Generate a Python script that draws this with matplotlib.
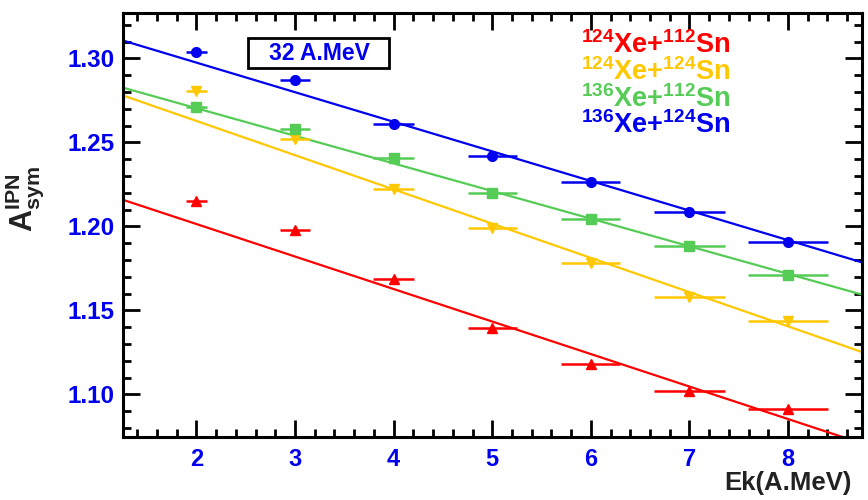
import numpy as np
import matplotlib
matplotlib.use("Agg")
import matplotlib.pyplot as plt
from matplotlib.ticker import MultipleLocator
from matplotlib.patches import Rectangle

plt.rcParams['font.family'] = ['Liberation Sans', 'DejaVu Sans']
plt.rcParams['font.weight'] = 'bold'
plt.rcParams['mathtext.fontset'] = 'custom'
plt.rcParams['mathtext.rm'] = 'Liberation Sans:bold'
plt.rcParams['mathtext.it'] = 'Liberation Sans:bold'
plt.rcParams['mathtext.bf'] = 'Liberation Sans:bold'

# Data
ek = [2, 3, 4, 5, 6, 7, 8]
ek_err = [0.11, 0.15, 0.21, 0.25, 0.30, 0.36, 0.41]

asym_124_112 = [1.2151, 1.1976, 1.1688, 1.1397, 1.1179, 1.1020, 1.0915]
asym_124_124 = [1.2805, 1.2522, 1.2224, 1.1992, 1.1784, 1.1579, 1.1436]
asym_136_112 = [1.2708, 1.2577, 1.2410, 1.2198, 1.2043, 1.1881, 1.1712]
asym_136_124 = [1.3040, 1.2870, 1.2611, 1.2419, 1.2262, 1.2085, 1.1907]

# linear fit parameters (intercept, slope)
fit_124_112 = (1.2401, -0.01934)
fit_124_124 = (1.3035, -0.02037)
fit_136_112 = (1.3032, -0.01643)
fit_136_124 = (1.3327, -0.01761)

labels = [r"$^{124}$Xe+$^{112}$Sn", r"$^{124}$Xe+$^{124}$Sn",
          r"$^{136}$Xe+$^{112}$Sn", r"$^{136}$Xe+$^{124}$Sn"]
colors = ['#ff0000', '#ffc800', '#55cc55', '#0000ee']
markers = ['^', 'v', 's', 'o']
series = [asym_124_112, asym_124_124, asym_136_112, asym_136_124]
fits = [fit_124_112, fit_124_124, fit_136_112, fit_136_124]

fig = plt.figure(figsize=(8.68, 5.0), dpi=100)
ax = fig.add_axes([122.5/868, 1-436.5/500, (862-122.5)/868, (436.5-13)/500])

xmin, xmax = 1.25, 8.75
ymin, ymax = 1.075, 1.327

xx = np.linspace(xmin, xmax, 50)
for ys, fit, c, m in zip(series, fits, colors, markers):
    ax.plot(xx, fit[0] + fit[1]*xx, color=c, lw=1.6, zorder=2)
    ax.errorbar(ek, ys, xerr=ek_err, fmt=m, color=c, ms=7,
                elinewidth=1.8, capsize=0, zorder=3)

ax.set_xlim(xmin, xmax)
ax.set_ylim(ymin, ymax)

ax.xaxis.set_major_locator(MultipleLocator(1))
ax.xaxis.set_minor_locator(MultipleLocator(0.2))
ax.yaxis.set_major_locator(MultipleLocator(0.05))
ax.yaxis.set_minor_locator(MultipleLocator(0.01))
ax.tick_params(which='both', direction='in', top=True, right=True, width=2, color='black')
ax.tick_params(which='major', length=12)
ax.tick_params(which='minor', length=6)
ax.tick_params(axis='y', labelsize=17.5, labelcolor='#0000ee', pad=6)
ax.tick_params(axis='x', labelsize=17, labelcolor='#0000ee', pad=8)
ax.set_yticks([1.10, 1.15, 1.20, 1.25, 1.30])
ax.set_yticklabels(['1.10', '1.15', '1.20', '1.25', '1.30'])
for lab in ax.get_xticklabels() + ax.get_yticklabels():
    lab.set_fontweight('bold')
for sp in ax.spines.values():
    sp.set_linewidth(2.2)

# axis titles as free texts
fig.text(852/868, 1 - 471/500, 'Ek(A.MeV)', fontsize=18.5, fontweight='bold',
         color='#222222', ha='right', va='top')
ax.set_ylabel(r"$\mathrm{A}^{\mathrm{IPN}}_{\mathrm{sym}}$", fontsize=22, color='#222222')
ax.yaxis.set_label_coords((46-122.5)/739.5, 0.56)

# legend texts
leg_y = [45, 72, 99, 125]
for lab, c, y in zip(labels, colors, leg_y):
    fig.text(581/868, 1 - y/500, lab, color=c, fontsize=19.5, fontweight='bold',
             ha='left', va='center')

# energy box
fig.patches.append(Rectangle((248/868, 1 - 68/500), (389-248)/868, 30/500,
                             transform=fig.transFigure, fc='white', ec='black',
                             lw=2, zorder=5))
fig.text(319/868, 1 - 53/500, '32 A.MeV', color='#0000ee', fontsize=16.5, fontweight='bold',
         ha='center', va='center', zorder=6)

fig.savefig('out.png', dpi=100)
